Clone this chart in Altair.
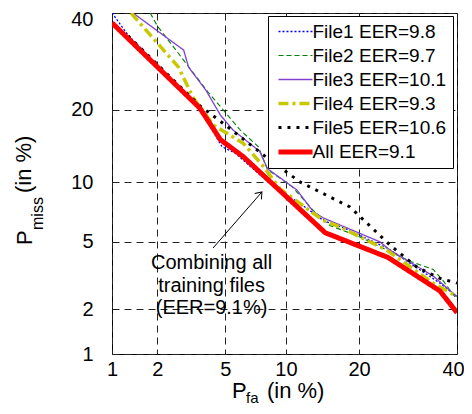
import altair as alt
import pandas as pd
from statistics import NormalDist

nd = NormalDist()

TICKS = [1, 2, 5, 10, 20, 40]

series_names = ["File1 EER=9.8", "File2 EER=9.7", "File3 EER=10.1",
                "File4 EER=9.3", "File5 EER=10.6", "All EER=9.1"]

file1_fa = [1.0, 1.29, 3.6, 4.5, 4.8, 5.6, 8.9, 11.6, 14.5, 17.7, 25.2, 29.6, 36.1, 40.0]
file1_miss = [40.0, 34.9, 20.3, 15.5, 14.3, 13.5, 9.4, 7.9, 6.5, 5.9, 4.6, 3.8, 2.9, 2.4]

file2_fa = [1.8, 2.0, 4.0, 6.0, 7.4, 8.2, 10.7, 13.2, 15.5, 19.7, 29.6, 34.6, 36.8, 40.0]
file2_miss = [40.0, 37.0, 23.2, 16.7, 14.3, 11.4, 9.5, 7.3, 6.1, 5.4, 3.9, 3.5, 3.0, 2.3]

file3_fa = [1.39, 2.9, 3.1, 3.9, 4.7, 5.5, 7.5, 8.2, 11.2, 13.2, 14.5, 23.7, 25.6, 34.6, 40.0]
file3_miss = [40.0, 31.6, 28.0, 23.5, 19.1, 16.7, 13.7, 11.5, 9.2, 7.2, 6.7, 5.0, 4.5, 3.2, 2.4]

file4_fa = [1.35, 2.7, 3.3, 4.3, 6.2, 7.7, 9.4, 14.5, 17.0, 25.0, 34.6, 40.0]
file4_miss = [40.0, 28.0, 22.1, 17.5, 14.8, 12.0, 9.3, 6.5, 6.0, 4.5, 2.9, 2.4]

file5_fa = [1.29, 3.6, 5.0, 8.2, 11.6, 18.5, 25.6, 31.1, 36.1, 40.0]
file5_miss = [34.7, 20.7, 17.5, 12.8, 10.0, 7.6, 4.8, 3.6, 3.1, 2.9]

all_fa = [1.0, 3.6, 4.7, 6.2, 14.8, 25.2, 36.1, 40.0]
all_miss = [37.7, 20.3, 15.3, 13.0, 5.6, 4.1, 2.6, 1.9]

fa_lists = [file1_fa, file2_fa, file3_fa, file4_fa, file5_fa, all_fa]
miss_lists = [file1_miss, file2_miss, file3_miss, file4_miss, file5_miss, all_miss]

# annotation (in %)
note_lines = ["Combining all", "training files", "(EER=9.1%)"]
note_pos = (4.2, 3.81)
arrow_tail = (4.28, 4.63)
arrow_head = (7.7, 8.99)

colors = ["#0000ff", "#008000", "#8040d0", "#c8c800", "#000000", "#ff0000"]
dashes = [[2, 2], [5, 3], [1, 0], [10, 4, 3, 4], [3, 6], [1, 0]]
widths = [1.3, 1.1, 1.3, 3.5, 3.0, 5.0]

FONT = "Liberation Sans"


def z(p):
    return nd.inv_cdf(p / 100.0)


rows = []
for name, fa, miss in zip(series_names, fa_lists, miss_lists):
    for i, (a, b) in enumerate(zip(fa, miss)):
        rows.append({"series": name, "idx": i, "fa": a, "miss": b,
                     "zx": z(a), "zy": z(b)})
df = pd.DataFrame(rows)

tick_z = [z(t) for t in TICKS]
expr = "'%s'" % TICKS[-1]
for i in range(len(TICKS) - 2, -1, -1):
    mid = (tick_z[i] + tick_z[i + 1]) / 2
    expr = "datum.value < %.4f ? '%s' : (%s)" % (mid, TICKS[i], expr)
last_test = "datum.value > %.4f" % ((tick_z[-1] + tick_z[-2]) / 2)

dom = [z(TICKS[0]), z(TICKS[-1])]
xscale = alt.Scale(domain=dom, nice=False, zero=False)
yscale = alt.Scale(domain=dom, nice=False, zero=False)

axis_common = dict(values=tick_z, labelExpr=expr, grid=True, gridColor="#222222",
                   gridDash=[7, 5], gridWidth=1, ticks=False, tickSize=0, domain=False,
                   labelFontSize=20, labelFont=FONT, labelColor="black",
                   labelFlush=False, labelOverlap=False)
xaxis = alt.Axis(labelPadding=5,
                 labelOffset={"condition": {"test": last_test, "value": -4}, "value": 0},
                 **axis_common)
yaxis = alt.Axis(labelPadding=19,
                 labelOffset={"condition": {"test": last_test, "value": 6}, "value": 0},
                 **axis_common)

legend = alt.Legend(orient="none", legendX=156, legendY=3,
                    symbolType="M-2.27,0H2.27", symbolSize=225,
                    labelFontSize=19, labelFont=FONT,
                    labelColor="black", fillColor="white", strokeColor="black",
                    padding=6, rowPadding=4, symbolOffset=11.5, labelOffset=7,
                    labelLimit=400, cornerRadius=0)

color_enc = alt.Color("series:N", title=None, legend=legend,
                      scale=alt.Scale(domain=series_names, range=colors))
dash_enc = alt.StrokeDash("series:N", title=None, legend=legend,
                          scale=alt.Scale(domain=series_names, range=dashes))
width_enc = alt.StrokeWidth("series:N", title=None, legend=legend,
                            scale=alt.Scale(domain=series_names, range=widths, type="ordinal"))

layers = []
for k, name in enumerate(series_names):
    sub = df[df["series"] == name]
    c = alt.Chart(sub).mark_line(clip=True).encode(
        x=alt.X("zx:Q", scale=xscale, axis=xaxis if k == 0 else alt.Axis(), title=None),
        y=alt.Y("zy:Q", scale=yscale, axis=yaxis if k == 0 else alt.Axis(), title=None),
        color=color_enc, strokeDash=dash_enc, strokeWidth=width_enc,
        order="idx:Q",
    )
    layers.append(c)

# annotation
note_df = pd.DataFrame([{"zx": z(note_pos[0]), "zy": z(note_pos[1]),
                         "txt": "\n".join(note_lines)}])
note = alt.Chart(note_df).mark_text(fontSize=20, font=FONT, color="black", align="center",
                                    baseline="middle", lineBreak="\n", lineHeight=22.5).encode(
    x=alt.X("zx:Q", scale=xscale), y=alt.Y("zy:Q", scale=yscale), text="txt:N")

arrow_df = pd.DataFrame([{"x0": z(arrow_tail[0]), "y0": z(arrow_tail[1]),
                          "x1": z(arrow_head[0]), "y1": z(arrow_head[1])}])
arrow = alt.Chart(arrow_df).mark_rule(color="black", strokeWidth=1).encode(
    x=alt.X("x0:Q", scale=xscale), y=alt.Y("y0:Q", scale=yscale), x2="x1:Q", y2="y1:Q")
head = alt.Chart(arrow_df).mark_point(shape="M-0.6,0.8L0,0L0.6,0.8", filled=False,
                                      stroke="black", strokeWidth=1, size=220, angle=41,
                                      opacity=1).encode(
    x=alt.X("x1:Q", scale=xscale), y=alt.Y("y1:Q", scale=yscale))

# axis titles with subscripts
one = alt.Data(values=[{}])
xt_p = alt.Chart(one).mark_text(text="P", fontSize=22, font=FONT, align="left",
                                baseline="alphabetic", color="black").encode(
    x=alt.value(120), y=alt.value(385))
xt_s = alt.Chart(one).mark_text(text="fa", fontSize=15, font=FONT, align="left",
                                baseline="alphabetic", color="black").encode(
    x=alt.value(134), y=alt.value(390))
xt_r = alt.Chart(one).mark_text(text="(in %)", fontSize=22, font=FONT, align="left",
                                baseline="alphabetic", color="black").encode(
    x=alt.value(155), y=alt.value(385))
yt_p = alt.Chart(one).mark_text(text="P", fontSize=22, font=FONT, align="left",
                                baseline="alphabetic", color="black", angle=270).encode(
    x=alt.value(-80), y=alt.value(232))
yt_s = alt.Chart(one).mark_text(text="miss", fontSize=16, font=FONT, align="left",
                                baseline="alphabetic", color="black", angle=270).encode(
    x=alt.value(-69), y=alt.value(217))
yt_r = alt.Chart(one).mark_text(text="(in %)", fontSize=22, font=FONT, align="left",
                                baseline="alphabetic", color="black", angle=270).encode(
    x=alt.value(-81), y=alt.value(180))

chart = alt.layer(*layers, note, arrow, head, xt_p, xt_s, xt_r, yt_p, yt_s, yt_r).properties(
    width=345, height=341,
    autosize=alt.AutoSizeParams(type="none"),
    padding={"left": 104, "top": 5, "right": 7, "bottom": 52},
    background="white",
).configure_view(stroke="black", strokeWidth=1)

chart.save("out.html", embed_options={"renderer": "svg", "actions": False})
